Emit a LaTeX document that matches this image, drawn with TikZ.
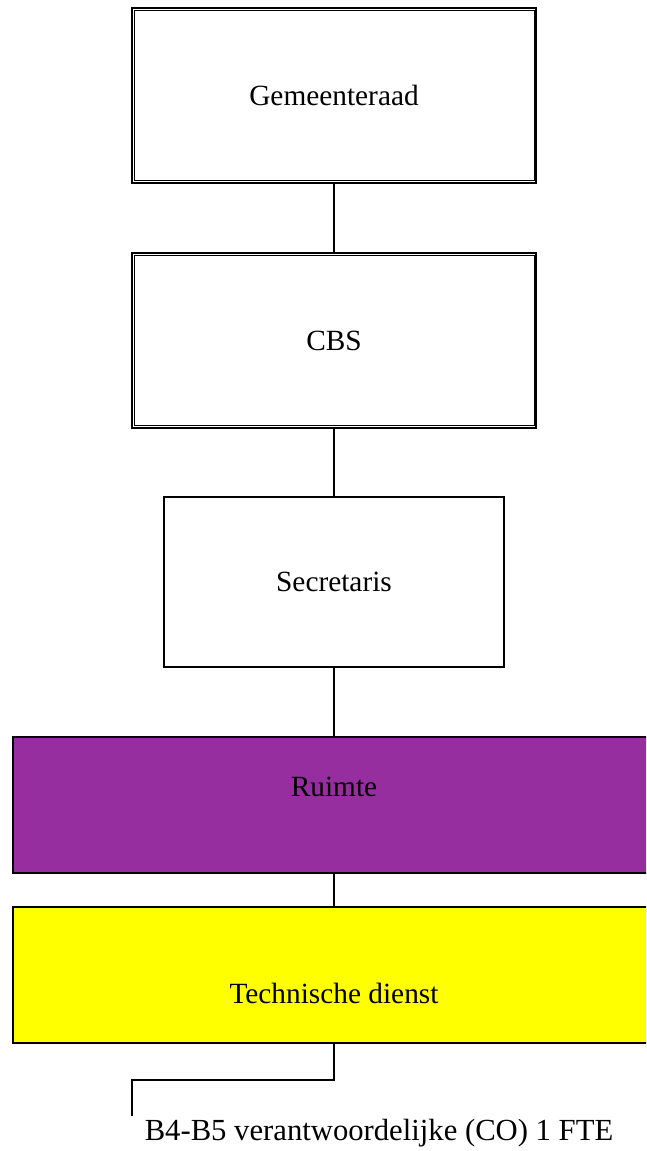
\documentclass[tikz,border=0pt]{standalone}
\usepackage{fontspec}
\setmainfont{Liberation Serif}
\definecolor{paars}{RGB}{150,46,160}
\definecolor{geel}{RGB}{255,255,0}

\begin{document}
\begin{tikzpicture}[x=0.75pt,y=-0.75pt,
	tekst/.style={font=\fontsize{22}{26}\selectfont},
	dubbel/.style={tekst,draw,line width=1.8pt,minimum width=303pt,minimum height=131pt,inner sep=0pt},
	enkel/.style={tekst,draw,line width=1.3pt,minimum width=255pt,minimum height=127.5pt,inner sep=0pt},
	balk/.style={draw,line width=1.5pt,minimum width=482pt,minimum height=102pt,inner sep=0pt},
	lijn/.style={line width=1.2pt}]
	
	\useasboundingbox (0,0) rectangle (646,1151);
	\clip (0,0) rectangle (646,1151);
	
	\def\inset{2.4pt};
	
	% bovenste twee vakken, dubbele rand
	\node[dubbel] (gemeenteraad) at (334,95.5) {Gemeenteraad};
	\draw[line width=0.75pt] ([xshift=\inset,yshift=-\inset]gemeenteraad.north west) rectangle ([xshift=-\inset,yshift=\inset]gemeenteraad.south east);
	
	\node[dubbel] (cbs) at (334,340.5) {CBS};
	\draw[line width=0.75pt] ([xshift=\inset,yshift=-\inset]cbs.north west) rectangle ([xshift=-\inset,yshift=\inset]cbs.south east);
	
	\node[enkel] (secretaris) at (334,582) {Secretaris};
	
	% gekleurde balken
	\node[balk,fill=paars] (ruimte) at (334,804.75) {};
	\node[tekst] (ruimtetxt) at (334,787) {Ruimte};
	
	\node[balk,fill=geel] (techniek) at (334,975) {};
	\node[tekst] (techniektxt) at (334,993) {Technische dienst};
	
	\draw[lijn] (gemeenteraad.south) -- (cbs.north);
	\draw[lijn] (cbs.south) -- (secretaris.north);
	\draw[lijn] (secretaris.south) -- (ruimte.north);
	\draw[lijn] (ruimte.south) -- (techniek.north);
	
	\coordinate (eind) at (132,1116);
	\draw[lijn] (techniek.south) -- ++(0,36) -| (eind);
	
	\node[tekst,font=\fontsize{23}{27}\selectfont] (fte) at (379,1133) {B4-B5 verantwoordelijke (CO) 1 FTE};
	
\end{tikzpicture}
\end{document}
